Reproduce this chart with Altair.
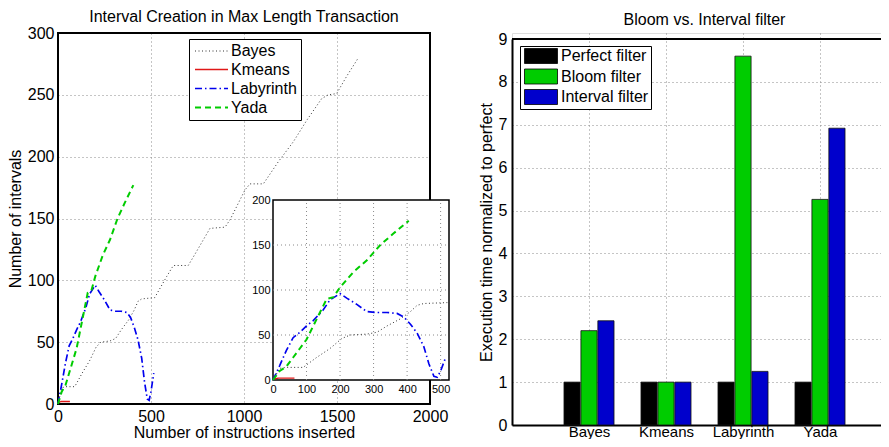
import altair as alt
import pandas as pd

FONT = "Liberation Sans"

# ---------------- left chart data ----------------
SERIES = ["Bayes", "Kmeans", "Labyrinth", "Yada"]
SERIES_COLORS = ["#333333", "#e01818", "#0000ee", "#00cc00"]
SERIES_DASH = [[1, 2.5], [1, 0], [7, 3, 1.5, 3], [6, 4]]
SERIES_WIDTH = [1, 2, 2, 2]

BAYES_X = [0, 20, 40, 90, 130, 170, 205, 230, 280, 310, 340, 380, 410, 430, 450, 520,
           584, 620, 700, 728, 817, 898, 925, 1005, 1032, 1104, 1185, 1265, 1340, 1418,
           1453, 1498, 1552, 1615]
BAYES_Y = [0, 13, 14, 14, 25, 35, 46, 50, 51, 53, 60, 68, 76, 83, 85, 86,
           103, 112, 112, 119, 142, 143, 149, 173, 178, 178, 196, 212, 230, 247,
           250, 251, 265, 280]
KMEANS_X = [0, 16, 32, 48, 64]
KMEANS_Y = [1, 2, 2, 2, 2]
LABY_X = [0, 10, 20, 40, 60, 80, 100, 120, 150, 170, 200, 220, 250, 280, 310, 340,
          370, 390, 410, 430, 450, 465, 480, 490, 500, 515]
LABY_Y = [0, 8, 16, 33, 47, 53, 60, 66, 78, 89, 96, 91, 84, 76, 75, 75,
          74, 70, 62, 52, 37, 18, 4, 3, 10, 25]
YADA_X = [0, 20, 40, 60, 80, 100, 120, 140, 160, 180, 200, 240, 280, 320, 360, 405]
YADA_Y = [0, 10, 15, 25, 35, 45, 60, 75, 90, 92, 103, 120, 133, 150, 163, 177]

MAIN_X_DOMAIN = [0, 2000]
MAIN_Y_DOMAIN = [0, 300]
MAIN_X_TICKS = [0, 500, 1000, 1500, 2000]
MAIN_Y_TICKS = [0, 50, 100, 150, 200, 250, 300]
INSET_X_DOMAIN = [0, 525]
INSET_Y_DOMAIN = [0, 200]
INSET_X_TICKS = [0, 100, 200, 300, 400, 500]
INSET_Y_TICKS = [0, 50, 100, 150, 200]

# ---------------- right chart data ----------------
CATS = ["Bayes", "Kmeans", "Labyrinth", "Yada"]
CAT_POS = [1, 2, 3, 4]
FILTERS = ["Perfect filter", "Bloom filter", "Interval filter"]
FILTER_COLORS = ["#000000", "#00cc00", "#0000cc"]
PERFECT = [1.0, 1.0, 1.0, 1.0]
BLOOM = [2.2, 1.0, 8.6, 5.26]
INTERVAL = [2.43, 1.0, 1.25, 6.92]
BAR_X_DOMAIN = [0, 5]
BAR_Y_DOMAIN = [0, 9]
BAR_Y_TICKS = [0, 1, 2, 3, 4, 5, 6, 7, 8, 9]
BAR_STEP = 0.22
BAR_WIDTH = 0.21

# ---------------- tables ----------------
rows = []
for name, xs, ys in zip(SERIES, [BAYES_X, KMEANS_X, LABY_X, YADA_X],
                        [BAYES_Y, KMEANS_Y, LABY_Y, YADA_Y]):
    for i, (x, y) in enumerate(zip(xs, ys)):
        rows.append({"series": name, "x": x, "y": y, "i": i})
lines_df = pd.DataFrame(rows)
inset_df = lines_df[lines_df["x"] <= INSET_X_DOMAIN[1]]

bar_rows = []
for k, (f, vals) in enumerate(zip(FILTERS, [PERFECT, BLOOM, INTERVAL])):
    for c, p, v in zip(CATS, CAT_POS, vals):
        bar_rows.append({"category": c, "pos": p, "k": k, "filter": f, "value": v})
bars_df = pd.DataFrame(bar_rows)

# ---------------- geometry ----------------
LW, LH = 372, 371
INSET_X_RANGE = [215, 391]
INSET_Y_RANGE = [347, 167]
RW, RH = 385, 392
R_Y_RANGE = [392, 6]

grid_color = "#8a8a8a"
grid_dash = [1, 3]

xm = alt.Scale(domain=MAIN_X_DOMAIN, nice=False, zero=False)
ym = alt.Scale(domain=MAIN_Y_DOMAIN, nice=False, zero=False)
xi = alt.Scale(domain=INSET_X_DOMAIN, range=INSET_X_RANGE, nice=False, zero=False)
yi = alt.Scale(domain=INSET_Y_DOMAIN, range=INSET_Y_RANGE, nice=False, zero=False)

color_scale = alt.Scale(domain=SERIES, range=SERIES_COLORS)
dash_scale = alt.Scale(domain=SERIES, range=SERIES_DASH)
width_scale = alt.Scale(domain=SERIES, range=SERIES_WIDTH)

leg_common = dict(
    title=None, orient="none", legendX=131, legendY=6,
    symbolType="M-2.2,0H2.2", symbolSize=225, symbolStrokeWidth=2,
    symbolOffset=10, labelOffset=11,
    labelFontSize=16, labelFont=FONT, labelColor="black",
    rowPadding=2, padding=4, strokeColor="black", fillColor="white",
)

frame_df = pd.DataFrame({"x0": [MAIN_X_DOMAIN[0]], "x1": [MAIN_X_DOMAIN[1]],
                         "y0": [MAIN_Y_DOMAIN[0]], "y1": [MAIN_Y_DOMAIN[1]]})
frame = alt.Chart(frame_df).mark_rect(filled=False, stroke="black", strokeWidth=2).encode(
    x=alt.X("x0:Q", scale=xm, axis=None), x2="x1",
    y=alt.Y("y0:Q", scale=ym, axis=None), y2="y1",
)

main_lines = alt.Chart(lines_df).mark_line().encode(
    x=alt.X("x:Q", scale=xm, axis=alt.Axis(
        values=MAIN_X_TICKS, format="d", title="Number of instructions inserted", grid=True,
        gridDash=grid_dash, gridColor=grid_color, ticks=False, domain=False,
        labelFontSize=16, labelFont=FONT, labelColor="black", labelPadding=4,
        labelFlush=False, labelOverlap=False, titleFontSize=16, titleFont=FONT,
        titleFontWeight="normal", titleColor="black", titlePadding=0)),
    y=alt.Y("y:Q", scale=ym, axis=alt.Axis(
        values=MAIN_Y_TICKS, format="d", title="Number of intervals", grid=True,
        gridDash=grid_dash, gridColor=grid_color, ticks=False, domain=False,
        labelFontSize=16, labelFont=FONT, labelColor="black", labelPadding=4,
        labelFlush=False, labelOverlap=False, titleFontSize=16, titleFont=FONT,
        titleFontWeight="normal", titleColor="black", titlePadding=4)),
    color=alt.Color("series:N", scale=color_scale, legend=alt.Legend(**leg_common)),
    strokeDash=alt.StrokeDash("series:N", scale=dash_scale, legend=alt.Legend(**leg_common)),
    strokeWidth=alt.StrokeWidth("series:N", scale=width_scale, legend=None),
    order="i:Q",
)

inset_bg_df = pd.DataFrame({"x0": [INSET_X_DOMAIN[0]], "x1": [INSET_X_DOMAIN[1]],
                            "y0": [INSET_Y_DOMAIN[0]], "y1": [INSET_Y_DOMAIN[1]]})
inset_bg = alt.Chart(inset_bg_df).mark_rect(fill="white", stroke="black", strokeWidth=1.5).encode(
    x=alt.X("x0:Q", scale=xi, axis=None), x2="x1",
    y=alt.Y("y0:Q", scale=yi, axis=None), y2="y1",
)

gx_df = pd.DataFrame({"v": INSET_X_TICKS[1:], "lo": INSET_Y_DOMAIN[0], "hi": INSET_Y_DOMAIN[1]})
inset_gx = alt.Chart(gx_df).mark_rule(color=grid_color, strokeDash=grid_dash, strokeWidth=1).encode(
    x=alt.X("v:Q", scale=xi, axis=None),
    y=alt.Y("lo:Q", scale=yi, axis=None), y2="hi",
)
gy_df = pd.DataFrame({"v": INSET_Y_TICKS[1:-1], "lo": INSET_X_DOMAIN[0], "hi": INSET_X_DOMAIN[1]})
inset_gy = alt.Chart(gy_df).mark_rule(color=grid_color, strokeDash=grid_dash, strokeWidth=1).encode(
    y=alt.Y("v:Q", scale=yi, axis=None),
    x=alt.X("lo:Q", scale=xi, axis=None), x2="hi",
)

inset_lines = alt.Chart(inset_df).mark_line().encode(
    x=alt.X("x:Q", scale=xi, axis=alt.Axis(
        orient="bottom", offset=-(LH - INSET_Y_RANGE[0]), values=INSET_X_TICKS, format="d",
        grid=False, ticks=False, domain=False, title=None, zindex=1,
        labelFontSize=11, labelFont=FONT, labelColor="black", labelPadding=3,
        labelFlush=False, labelOverlap=False)),
    y=alt.Y("y:Q", scale=yi, axis=alt.Axis(
        orient="left", offset=-INSET_X_RANGE[0], values=INSET_Y_TICKS, format="d",
        grid=False, ticks=False, domain=False, title=None, zindex=1,
        labelFontSize=11, labelFont=FONT, labelColor="black", labelPadding=3,
        labelFlush=False, labelOverlap=False)),
    color=alt.Color("series:N", scale=color_scale, legend=None),
    strokeDash=alt.StrokeDash("series:N", scale=dash_scale, legend=None),
    strokeWidth=alt.StrokeWidth("series:N", scale=width_scale, legend=None),
    order="i:Q",
)

left = alt.layer(frame, main_lines, inset_bg, inset_gx, inset_gy, inset_lines).resolve_scale(
    x="independent", y="independent"
).properties(
    width=LW, height=LH,
    title=alt.TitleParams("Interval Creation in Max Length Transaction", fontSize=16,
                          font=FONT, fontWeight="normal", color="black",
                          anchor="middle", frame="group", offset=0),
)

# ---------------- right chart ----------------
xr = alt.Scale(domain=BAR_X_DOMAIN, nice=False, zero=False)
yr = alt.Scale(domain=BAR_Y_DOMAIN, range=R_Y_RANGE, nice=False, zero=False)
label_expr = "[''," + ",".join("'%s'" % c for c in CATS) + "][datum.value]"

bars = alt.Chart(bars_df).transform_calculate(
    x0=f"datum.pos + (datum.k - 1) * {BAR_STEP} - {BAR_WIDTH / 2}",
    x1=f"datum.pos + (datum.k - 1) * {BAR_STEP} + {BAR_WIDTH / 2}",
).mark_bar(stroke="#111111", strokeWidth=0.8).encode(
    x=alt.X("x0:Q", scale=xr,
            axis=alt.Axis(values=CAT_POS, labelExpr=label_expr, title=None, grid=True,
                          gridDash=grid_dash, gridColor=grid_color, ticks=False,
                          domain=True, domainColor="black", domainWidth=2,
                          labelFontSize=15, labelFont=FONT, labelColor="black",
                          labelPadding=-1, labelFlush=False, labelOverlap=False)),
    x2="x1",
    y=alt.Y("value:Q", scale=yr,
            axis=alt.Axis(values=BAR_Y_TICKS, title="Execution time normalized to perfect",
                          grid=True, gridDash=grid_dash, gridColor=grid_color, ticks=False,
                          domain=True, domainColor="black", domainWidth=2,
                          labelFontSize=16, labelFont=FONT, labelColor="black",
                          labelPadding=5, labelFlush=False, labelOverlap=False,
                          titleFontSize=16, titleFont=FONT, titleFontWeight="normal",
                          titleColor="black", titlePadding=4)),
    y2=alt.datum(0),
    fill=alt.Fill("filter:N", sort=FILTERS,
                  scale=alt.Scale(domain=FILTERS, range=FILTER_COLORS),
                  legend=alt.Legend(title=None, orient="none", legendX=8, legendY=13,
                                    symbolType="M-2.2,-1H2.2V1H-2.2Z", symbolSize=225,
                                    symbolOffset=11, labelOffset=12,
                                    symbolStrokeColor="black", symbolStrokeWidth=0.8,
                                    symbolOpacity=1,
                                    labelFontSize=16, labelFont=FONT, labelColor="black",
                                    rowPadding=0.5, padding=2,
                                    strokeColor="black", fillColor="white")),
)

top_df = pd.DataFrame({"y": [BAR_Y_DOMAIN[1]], "a": [BAR_X_DOMAIN[0]], "b": [BAR_X_DOMAIN[1]]})
top_line = alt.Chart(top_df).mark_rule(color="black", strokeWidth=2).encode(
    y="y:Q", x="a:Q", x2="b",
)

right = alt.layer(bars, top_line).properties(
    width=RW, height=RH,
    title=alt.TitleParams("Bloom vs. Interval filter", fontSize=16, font=FONT,
                          fontWeight="normal", color="black", anchor="middle",
                          frame="group", offset=3),
)

# fixed 873 x 431 canvas (page margins make 889 x 447); the first plot's origin sits
# 50 px right and 25 px down; whatever lies past the right edge is cut off,
# as in the reference
chart = alt.hconcat(left, right, spacing=26).resolve_scale(
    color="independent", fill="independent", strokeDash="independent", strokeWidth="independent"
).resolve_legend(
    color="independent", fill="independent", strokeDash="independent"
).properties(
    autosize=alt.AutoSizeParams(type="none"),
    padding={"left": 50, "top": 25, "right": 823, "bottom": 406},
).configure_view(strokeWidth=0).configure(background="white")

chart.save("out.html", embed_options={"renderer": "svg", "actions": False})
